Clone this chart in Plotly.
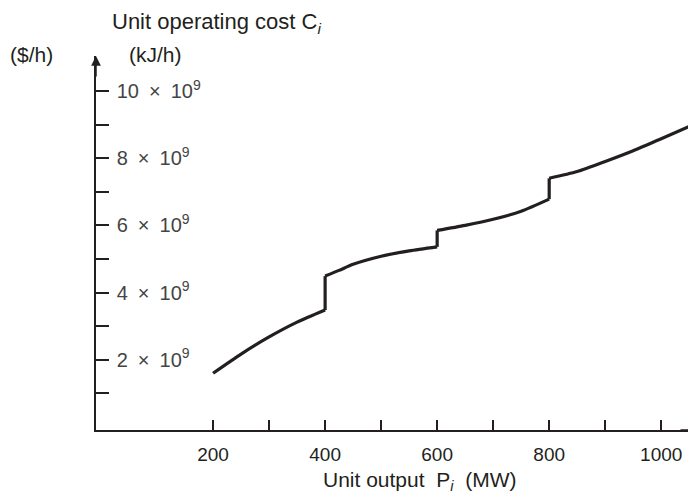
import plotly.graph_objects as go

# ---- data ----
seg1_P = [200, 250, 300, 350, 400]
seg1_C = [1.60, 2.17, 2.68, 3.12, 3.48]
seg2_P = [400, 425, 450, 500, 550, 600]
seg2_C = [4.49, 4.66, 4.84, 5.08, 5.24, 5.36]
seg3_P = [600, 650, 700, 750, 800]
seg3_C = [5.85, 6.00, 6.18, 6.42, 6.78]
seg4_P = [800, 850, 900, 950, 1000, 1060]
seg4_C = [7.40, 7.60, 7.90, 8.22, 8.58, 9.02]

x_tickvals = [100, 200, 300, 400, 500, 600, 700, 800, 900, 1000]
x_ticktext = ["", "200", "", "400", "", "600", "", "800", "", "1000"]
y_tickvals = [1, 2, 3, 4, 5, 6, 7, 8, 9, 10]
y_ticktext = ["", "2\u2002×\u200210<sup>9</sup>", "", "4\u2002×\u200210<sup>9</sup>", "",
              "6\u2002×\u200210<sup>9</sup>", "", "8\u2002×\u200210<sup>9</sup>", "",
              "10\u2002×\u200210<sup>9</sup>"]

X_RANGE = [-9, 1071]
Y_RANGE = [-0.09, 11.04]

INK = "#231f20"
FONT = "Liberation Sans, Arial, sans-serif"

fig = go.Figure()
segments = [(seg1_P, seg1_C), (seg2_P, seg2_C), (seg3_P, seg3_C), (seg4_P, seg4_C)]
for P, C in segments:
    fig.add_trace(go.Scatter(x=P, y=C, mode="lines", cliponaxis=False,
                             line=dict(color=INK, width=3.2, shape="spline", smoothing=0.7),
                             showlegend=False, hoverinfo="skip"))
# vertical steps between segments
step_x, step_y = [], []
for (P1, C1), (P2, C2) in zip(segments[:-1], segments[1:]):
    step_x += [P1[-1], P2[0], None]
    step_y += [C1[-1], C2[0], None]
fig.add_trace(go.Scatter(x=step_x, y=step_y, mode="lines",
                         line=dict(color=INK, width=3.2), showlegend=False, hoverinfo="skip"))

fig.update_layout(
    width=696, height=496,
    margin=dict(l=88, r=3, t=48, b=74),
    paper_bgcolor="white", plot_bgcolor="white",
    font=dict(family=FONT, size=21, color=INK),
    xaxis=dict(range=X_RANGE, showgrid=False, zeroline=False, showline=True, automargin=False,
               linecolor=INK, linewidth=1.5, ticks="inside", ticklen=10, tickwidth=1.5,
               tickcolor=INK, tickvals=x_tickvals, ticktext=x_ticktext,
               tickfont=dict(size=19), ticklabelstandoff=6),
    yaxis=dict(range=Y_RANGE, showgrid=False, zeroline=False, showline=True, automargin=False,
               linecolor=INK, linewidth=1.5, ticks="inside", ticklen=13, tickwidth=1.5,
               tickcolor=INK, tickvals=y_tickvals, ticktext=y_ticktext,
               ticklabelposition="inside", ticklabelstandoff=9, tickfont=dict(size=20)),
)

# axis arrows
fig.add_annotation(x=X_RANGE[0], y=Y_RANGE[1], ax=0, ay=22, xref="x", yref="y",
                   text="", showarrow=True, arrowhead=2, arrowsize=1.3, arrowwidth=1.5,
                   arrowcolor=INK)
fig.add_annotation(x=X_RANGE[1], y=Y_RANGE[0], ax=-22, ay=0, xref="x", yref="y",
                   text="", showarrow=True, arrowhead=2, arrowsize=1.3, arrowwidth=1.5,
                   arrowcolor=INK)

# axis titles
fig.add_annotation(x=0, y=1.0, xref="paper", yref="paper",
                   text="Unit operating cost C<sub><i>i</i></sub>", showarrow=False,
                   xanchor="left", yanchor="middle", xshift=14, yshift=33, font=dict(size=22))
fig.add_annotation(x=0, y=1.0, xref="paper", yref="paper", text="(kJ/h)",
                   showarrow=False, xanchor="left", yanchor="middle", xshift=31, yshift=2,
                   font=dict(size=21))
fig.add_annotation(x=0, y=1.0, xref="paper", yref="paper", text="($/h)",
                   showarrow=False, xanchor="right", yanchor="middle", xshift=-41, yshift=2,
                   font=dict(size=21))
fig.add_annotation(x=0.535, y=0, xref="paper", yref="paper",
                   text="Unit output  P<sub><i>i</i></sub>  (MW)", showarrow=False,
                   xanchor="center", yanchor="middle", yshift=-51, font=dict(size=21))

fig.write_html("out.html")
